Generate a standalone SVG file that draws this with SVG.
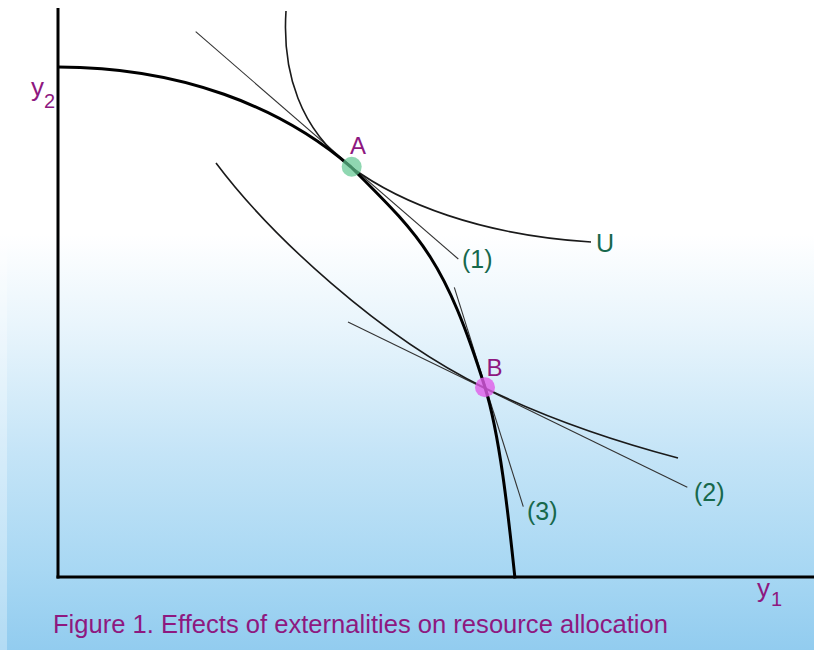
<svg xmlns="http://www.w3.org/2000/svg" width="814" height="650" viewBox="0 0 814 650">
  <defs>
    <linearGradient id="bg" x1="0" y1="0" x2="0" y2="650" gradientUnits="userSpaceOnUse">
      <stop offset="0" stop-color="#ffffff"/>
      <stop offset="0.36" stop-color="#ffffff"/>
      <stop offset="0.5" stop-color="#e9f5fc"/>
      <stop offset="0.7" stop-color="#c4e4f7"/>
      <stop offset="0.88" stop-color="#a7d7f3"/>
      <stop offset="1" stop-color="#92ccef"/>
    </linearGradient>
    <style>
      .axis { stroke: #000; stroke-width: 3; fill: none; }
      .frontier { stroke: #000; stroke-width: 3; fill: none; stroke-linejoin: round; }
      .icurve { stroke: #1a1a1a; stroke-width: 1.6; fill: none; }
      .tangent { stroke: #333; stroke-width: 1.1; fill: none; }
      .purple { fill: #8e1880; font-family: "Liberation Sans", Arial, sans-serif; }
      .green { fill: #17684c; font-family: "Liberation Sans", Arial, sans-serif; font-size: 25px; }
    </style>
  </defs>
  <rect x="0" y="0" width="814" height="650" fill="url(#bg)"/>
  <rect x="0" y="0" width="7" height="650" fill="#ffffff" opacity="0.3"/>

  <g id="axes">
    <line class="axis" x1="58" y1="8" x2="58" y2="578.5"/>
    <line class="axis" x1="56.5" y1="577" x2="814" y2="577"/>
  </g>

  <g id="connectors">
    <line id="tangent1" class="tangent" x1="195.7" y1="31.7" x2="458.3" y2="259"/>
    <line id="tangent2" class="tangent" x1="348" y1="322" x2="687.3" y2="487.3"/>
    <line id="tangent3" class="tangent" x1="454.3" y1="287.3" x2="523.3" y2="506.7"/>
    <path id="curveU" class="icurve" d="M286,11 C282,72 300,130 351,167 C400,203 480,235 591,242"/>
    <path id="curve2" class="icurve" d="M216,163 C270,235 380,337 485,388 C540,415 610,440 678,458"/>
  </g>

  <g id="frontier">
    <path class="frontier" d="M58,67 C180,67 281,106.4 351,167 C420.2,236.2 444.1,257.5 485,387.5 C500.7,437.5 509.5,527 515,578.5"/>
  </g>

  <g id="pointA">
    <circle cx="351.7" cy="166.7" r="10" fill="#5fc690" opacity="0.7"/>
    <text class="purple" x="350" y="153.5" font-size="24">A</text>
  </g>
  <g id="pointB">
    <circle cx="485" cy="387.3" r="10" fill="#e05be8" opacity="0.8"/>
    <text class="purple" x="486.5" y="375.5" font-size="24">B</text>
  </g>

  <g id="labels">
    <text class="green" x="596" y="251.5">U</text>
    <text class="green" x="462" y="268">(1)</text>
    <text class="green" x="694" y="501">(2)</text>
    <text class="green" x="527" y="520">(3)</text>
  </g>

  <g id="axis-labels">
    <text class="purple" x="31" y="96" font-size="26">y<tspan dx="0" dy="12" font-size="20">2</tspan></text>
    <text class="purple" x="757" y="597" font-size="26">y<tspan dx="1" dy="9" font-size="20">1</tspan></text>
  </g>

  <g id="caption">
    <text class="purple" x="53" y="633" font-size="25" textLength="615" lengthAdjust="spacingAndGlyphs">Figure 1. Effects of externalities on resource allocation</text>
  </g>
</svg>
